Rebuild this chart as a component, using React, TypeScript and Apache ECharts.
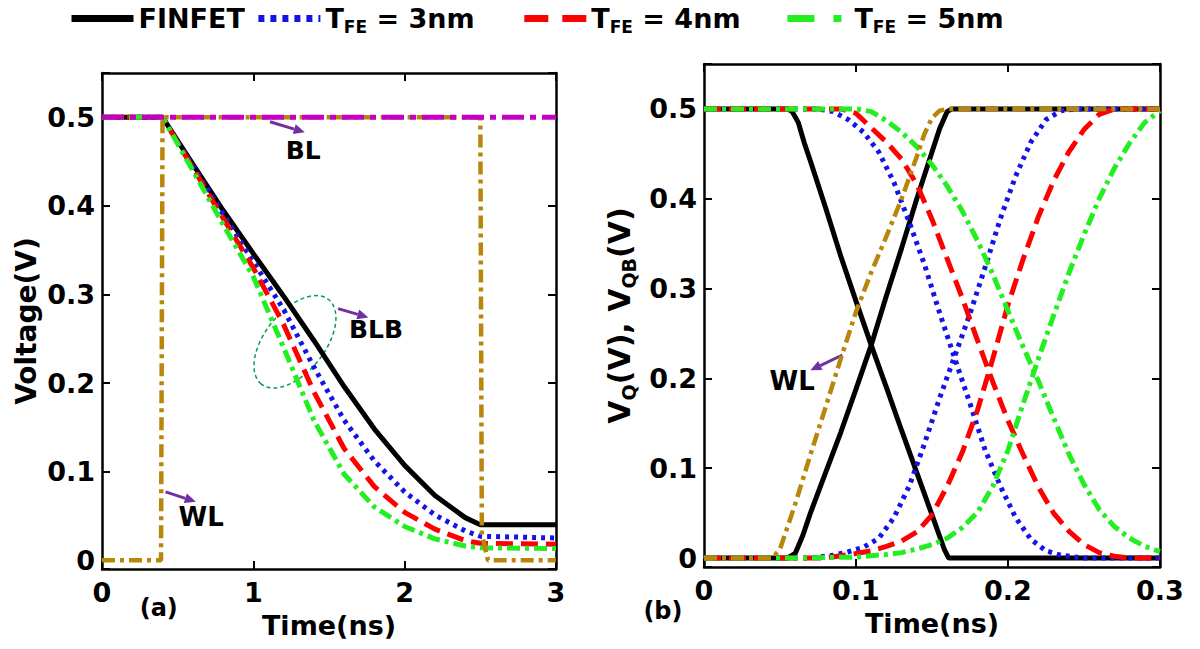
import React, { useEffect, useRef } from 'react';
import * as echarts from 'echarts';

const FONT = "'DejaVu Sans', 'Liberation Sans', sans-serif";

// ---------- legend ----------
const legendNames = ['FINFET', '3nm', '4nm', '5nm'];
const legendTexts = ['{t|FINFET}', '{t|T}{s|FE}{t| = 3nm}{p|    }', '{t|T}{s|FE}{t| = 4nm}{q|    }', '{t|T}{s|FE}{t| = 5nm}'];

// ---------- panel (a): bit-line discharge, time in ns ----------
const aXTicks = [0, 1, 2, 3];
const aBLB_FINFET = [[0, 0.5], [0.4, 0.5], [0.6, 0.447], [0.8, 0.395], [1.0, 0.346], [1.2, 0.298], [1.4, 0.248], [1.6, 0.196], [1.8, 0.148], [2.0, 0.107], [2.2, 0.073], [2.4, 0.048], [2.5, 0.04], [3.0, 0.04]];
const aBLB_3nm = [[0, 0.5], [0.4, 0.5], [0.6, 0.445], [0.8, 0.391], [1.0, 0.337], [1.2, 0.283], [1.4, 0.218], [1.6, 0.158], [1.8, 0.112], [2.0, 0.077], [2.2, 0.051], [2.4, 0.033], [2.5, 0.027], [3.0, 0.025]];
const aBLB_4nm = [[0, 0.5], [0.4, 0.5], [0.6, 0.443], [0.8, 0.386], [1.0, 0.33], [1.2, 0.266], [1.4, 0.19], [1.6, 0.126], [1.8, 0.083], [2.0, 0.054], [2.2, 0.035], [2.4, 0.022], [2.5, 0.019], [3.0, 0.018]];
const aBLB_5nm = [[0, 0.5], [0.4, 0.5], [0.6, 0.44], [0.8, 0.379], [1.0, 0.32], [1.2, 0.24], [1.4, 0.158], [1.6, 0.097], [1.8, 0.06], [2.0, 0.038], [2.2, 0.024], [2.4, 0.016], [2.5, 0.014], [3.0, 0.013]];
const aWL = [[0, 0], [0.39, 0], [0.4, 0.5], [2.5, 0.5], [2.51, 0.03], [2.55, 0], [3.0, 0]];
const aBL = [[0, 0.5], [3.0, 0.5]];

// ---------- panel (b): storage nodes, time in ns ----------
const bXTicks = [0, 0.1, 0.2, 0.3];
const bQ_FINFET = [[0, 0.5], [0.055, 0.5], [0.058, 0.497], [0.062, 0.485], [0.066, 0.462], [0.07, 0.442], [0.08, 0.39], [0.09, 0.336], [0.1, 0.286], [0.11, 0.237], [0.12, 0.19], [0.13, 0.142], [0.14, 0.095], [0.15, 0.048], [0.158, 0.01], [0.161, 0], [0.3, 0]];
const bQB_FINFET = [[0, 0], [0.055, 0], [0.06, 0.005], [0.065, 0.025], [0.07, 0.05], [0.08, 0.095], [0.09, 0.14], [0.1, 0.188], [0.11, 0.237], [0.12, 0.292], [0.13, 0.345], [0.14, 0.4], [0.15, 0.452], [0.155, 0.478], [0.16, 0.497], [0.163, 0.5], [0.3, 0.5]];
const bQ_3nm = [[0, 0.5], [0.075, 0.5], [0.085, 0.497], [0.095, 0.488], [0.105, 0.474], [0.115, 0.452], [0.125, 0.418], [0.135, 0.374], [0.145, 0.327], [0.155, 0.273], [0.165, 0.222], [0.175, 0.172], [0.185, 0.12], [0.195, 0.08], [0.205, 0.045], [0.215, 0.021], [0.225, 0.008], [0.235, 0.003], [0.25, 0], [0.3, 0]];
const bQB_3nm = [[0, 0], [0.07, 0], [0.085, 0.003], [0.095, 0.007], [0.105, 0.012], [0.115, 0.022], [0.125, 0.045], [0.135, 0.08], [0.145, 0.127], [0.155, 0.178], [0.165, 0.225], [0.175, 0.272], [0.185, 0.324], [0.195, 0.378], [0.205, 0.425], [0.215, 0.463], [0.225, 0.488], [0.235, 0.498], [0.245, 0.5], [0.3, 0.5]];
const bQ_4nm = [[0, 0.5], [0.09, 0.5], [0.1, 0.495], [0.11, 0.479], [0.12, 0.463], [0.13, 0.444], [0.14, 0.416], [0.15, 0.377], [0.16, 0.333], [0.17, 0.289], [0.18, 0.242], [0.19, 0.196], [0.2, 0.153], [0.21, 0.115], [0.22, 0.079], [0.23, 0.05], [0.24, 0.03], [0.25, 0.015], [0.26, 0.006], [0.27, 0.002], [0.28, 0], [0.3, 0]];
const bQB_4nm = [[0, 0], [0.08, 0], [0.1, 0.005], [0.11, 0.008], [0.12, 0.013], [0.13, 0.019], [0.14, 0.029], [0.15, 0.048], [0.16, 0.08], [0.17, 0.118], [0.18, 0.165], [0.19, 0.222], [0.2, 0.282], [0.21, 0.333], [0.22, 0.38], [0.23, 0.42], [0.24, 0.452], [0.25, 0.477], [0.26, 0.494], [0.27, 0.5], [0.3, 0.5]];
const bQ_5nm = [[0, 0.5], [0.1, 0.5], [0.11, 0.497], [0.12, 0.487], [0.13, 0.474], [0.14, 0.458], [0.15, 0.438], [0.16, 0.414], [0.17, 0.386], [0.18, 0.353], [0.19, 0.316], [0.2, 0.275], [0.21, 0.235], [0.22, 0.197], [0.23, 0.156], [0.24, 0.116], [0.25, 0.082], [0.26, 0.054], [0.27, 0.035], [0.28, 0.022], [0.29, 0.013], [0.3, 0.007]];
const bQB_5nm = [[0, 0], [0.06, 0], [0.1, 0.001], [0.12, 0.004], [0.13, 0.006], [0.14, 0.01], [0.15, 0.015], [0.16, 0.022], [0.17, 0.034], [0.18, 0.051], [0.19, 0.08], [0.2, 0.12], [0.21, 0.172], [0.22, 0.222], [0.23, 0.27], [0.24, 0.317], [0.25, 0.36], [0.26, 0.4], [0.27, 0.434], [0.28, 0.462], [0.29, 0.485], [0.3, 0.498]];
const bWL = [[0, 0], [0.045, 0], [0.05, 0.01], [0.055, 0.035], [0.06, 0.06], [0.07, 0.115], [0.08, 0.168], [0.09, 0.222], [0.1, 0.274], [0.11, 0.318], [0.12, 0.358], [0.13, 0.4], [0.14, 0.447], [0.145, 0.472], [0.15, 0.49], [0.155, 0.498], [0.16, 0.5], [0.3, 0.5]];

// ---------- styles ----------
const COLORS = { FINFET: '#000000', '3nm': '#1414e6', '4nm': '#ff0000', '5nm': '#22ee22', WL: '#b8860b', BL: '#c400c4' };
const DASH: Record<string, any> = { FINFET: 'solid', '3nm': [4, 5], '4nm': [17, 8], '5nm': [13, 5, 4, 5], WL: [13, 5, 4, 5], BL: [22, 6, 6, 6] };

const fmtTick = (v: number) => {
  const r = Math.round(v * 10) / 10;
  return Math.abs(v - r) < 1e-6 ? String(r) : '';
};

function lineSeries(name: string, data: number[][], axis: number, width = 5) {
  return {
    type: 'line', name, data, xAxisIndex: axis, yAxisIndex: axis,
    symbol: 'none', showSymbol: false, silent: true,
    lineStyle: { color: (COLORS as any)[name], width, type: DASH[name], cap: 'butt' },
    itemStyle: { color: (COLORS as any)[name] },
  };
}

function xAx(grid: number, pos: string, max: number, interval: number, labels: boolean, name = '') {
  return {
    type: 'value', gridIndex: grid, position: pos, min: 0, max, interval,
    name, nameLocation: 'middle', nameGap: 43,
    nameTextStyle: { fontFamily: FONT, fontWeight: 'bold', fontSize: 27, color: '#000' },
    axisLine: { show: true, onZero: false, lineStyle: { color: '#000', width: 2.5 } },
    axisTick: { show: true, inside: true, length: 8, lineStyle: { color: '#000', width: 2 } },
    axisLabel: { show: labels, margin: 10, fontFamily: FONT, fontWeight: 'bold', fontSize: 27, color: '#000', formatter: (v: number) => String(Math.round(v * 10) / 10) },
    splitLine: { show: false },
  };
}

function yAx(grid: number, pos: string, labels: boolean, name = '', gap = 58, nameStyle: any = {}) {
  return {
    type: 'value', gridIndex: grid, position: pos, min: -0.01, max: 0.55, splitNumber: 5,
    name, nameLocation: 'middle', nameGap: gap, nameRotate: 90,
    nameTextStyle: { fontFamily: FONT, fontWeight: 'bold', fontSize: 28, color: '#000', ...nameStyle },
    axisLine: { show: true, onZero: false, lineStyle: { color: '#000', width: 2.5 } },
    axisTick: { show: true, inside: true, length: 8, lineStyle: { color: '#000', width: 2 } },
    axisLabel: { show: labels, margin: 7, fontFamily: FONT, fontWeight: 'bold', fontSize: 27, color: '#000', formatter: fmtTick },
    splitLine: { show: false },
  };
}

export default function App() {
  const ref = useRef<HTMLDivElement>(null);
  useEffect(() => {
    if (!ref.current) return;
    const chart = echarts.init(ref.current, undefined, { renderer: 'svg' });
    const legendLine: Record<string, any> = {
      FINFET: { width: 7, type: 'solid' },
      '3nm': { width: 7, type: [6, 6] },
      '4nm': { width: 7, type: [24, 14] },
      '5nm': { width: 7, type: [27, 19, 8, 10] },
    };
    const option: any = {
      animation: false,
      backgroundColor: '#ffffff',
      grid: [
        { left: 102, top: 73, width: 454, height: 496 },
        { left: 704, top: 64, width: 456, height: 503 },
      ],
      legend: {
        data: legendNames.map((n) => ({ name: n, lineStyle: { color: (COLORS as any)[n], ...legendLine[n] } })),
        left: 68, top: 5, padding: 0,
        itemWidth: 62, itemHeight: 34, itemGap: 10,
        selectedMode: false,
        itemStyle: { opacity: 0 },
        lineStyle: { width: 7 },
        formatter: (n: string) => legendTexts[legendNames.indexOf(n)],
        textStyle: {
          fontFamily: FONT, fontWeight: 'bold', fontSize: 27, color: '#000',
          rich: {
            t: { fontFamily: FONT, fontWeight: 'bold', fontSize: 27, lineHeight: 34, color: '#000' },
            s: { fontFamily: FONT, fontWeight: 'bold', fontSize: 17, lineHeight: 14, verticalAlign: 'bottom', color: '#000' },
            p: { fontFamily: FONT, fontSize: 26, lineHeight: 34 },
            q: { fontFamily: FONT, fontSize: 24, lineHeight: 34 },
          },
        },
      },
      xAxis: [
        xAx(0, 'bottom', aXTicks[aXTicks.length - 1], aXTicks[1] - aXTicks[0], true, 'Time(ns)'),
        xAx(0, 'top', aXTicks[aXTicks.length - 1], aXTicks[1] - aXTicks[0], false),
        xAx(1, 'bottom', bXTicks[bXTicks.length - 1], 0.1, true, 'Time(ns)'),
        xAx(1, 'top', bXTicks[bXTicks.length - 1], 0.1, false),
      ],
      yAxis: [
        yAx(0, 'left', true, 'Voltage(V)', 62),
        yAx(0, 'right', false),
        yAx(1, 'left', true, '{t|V}{s|Q}{t|(V), V}{s|QB}{t|(V)}', 66, {
          fontSize: 30,
          rich: {
            t: { fontFamily: FONT, fontWeight: 'bold', fontSize: 30, lineHeight: 37, color: '#000' },
            s: { fontFamily: FONT, fontWeight: 'bold', fontSize: 19, lineHeight: 16, verticalAlign: 'bottom', color: '#000' },
          },
        }),
        yAx(1, 'right', false),
      ],
      series: [
        lineSeries('FINFET', aBLB_FINFET, 0),
        lineSeries('3nm', aBLB_3nm, 0),
        lineSeries('4nm', aBLB_4nm, 0),
        lineSeries('5nm', aBLB_5nm, 0),
        lineSeries('WL', aWL, 0, 4.5),
        lineSeries('BL', aBL, 0),
        lineSeries('FINFET', bQ_FINFET, 2),
        lineSeries('FINFET', bQB_FINFET, 2),
        lineSeries('3nm', bQ_3nm, 2),
        lineSeries('3nm', bQB_3nm, 2),
        lineSeries('4nm', bQ_4nm, 2),
        lineSeries('4nm', bQB_4nm, 2),
        lineSeries('5nm', bQ_5nm, 2),
        lineSeries('5nm', bQB_5nm, 2),
        lineSeries('WL', bWL, 2, 4.5),
      ],
    };
    chart.setOption(option);

    const pa = (x: number, y: number) => chart.convertToPixel({ xAxisIndex: 0, yAxisIndex: 0 } as any, [x, y]) as number[];
    const pb = (x: number, y: number) => chart.convertToPixel({ xAxisIndex: 2, yAxisIndex: 2 } as any, [x, y]) as number[];
    const PURPLE = '#7030a0';
    const arrow = (a: number[], b: number[]) => {
      const dx = b[0] - a[0], dy = b[1] - a[1];
      const len = Math.hypot(dx, dy);
      const ux = dx / len, uy = dy / len;
      const hl = 11, hw = 5;
      const base = [b[0] - ux * hl, b[1] - uy * hl];
      return [
        { type: 'line', shape: { x1: a[0], y1: a[1], x2: base[0], y2: base[1] }, style: { stroke: PURPLE, lineWidth: 3 } },
        { type: 'polygon', shape: { points: [b, [base[0] - uy * hw, base[1] + ux * hw], [base[0] + uy * hw, base[1] - ux * hw]] }, style: { fill: PURPLE } },
      ];
    };
    const label = (p: number[], text: string, size = 25) => ({
      type: 'text', x: p[0], y: p[1],
      style: { text, fill: '#000', font: `bold ${size}px ${FONT}`, align: 'center', verticalAlign: 'middle', textAlign: 'center', textVerticalAlign: 'middle' },
    });
    const ec = pa(1.275, 0.2465);
    const graphics: any[] = [
      ...arrow(pa(1.11, 0.495), pa(1.34, 0.483)),
      label(pa(1.33, 0.4625), 'BL', 25),
      ...arrow(pa(1.56, 0.284), pa(1.76, 0.274)),
      label(pa(1.81, 0.26), 'BLB', 25),
      {
        type: 'ellipse', x: ec[0], y: ec[1], rotation: 0.9,
        shape: { cx: 0, cy: 0, rx: 54, ry: 30 },
        style: { fill: 'none', stroke: '#00a050', lineWidth: 1.5, lineDash: [4, 3] },
      },
      ...arrow(pa(0.42, 0.077), pa(0.62, 0.066)),
      label(pa(0.655, 0.049), 'WL', 26),
      label(pa(0.375, -0.054), '(a)', 24),
      ...arrow(pb(0.091, 0.226), pb(0.07, 0.209)),
      label(pb(0.058, 0.197), 'WL', 26),
      label(pb(-0.027, -0.059), '(b)', 24),
    ];
    chart.setOption({ graphic: { elements: graphics } });
    return () => chart.dispose();
  }, []);
  return <div ref={ref} style={{ position: 'absolute', left: 0, top: 0, width: 1200, height: 649 }} />;
}
